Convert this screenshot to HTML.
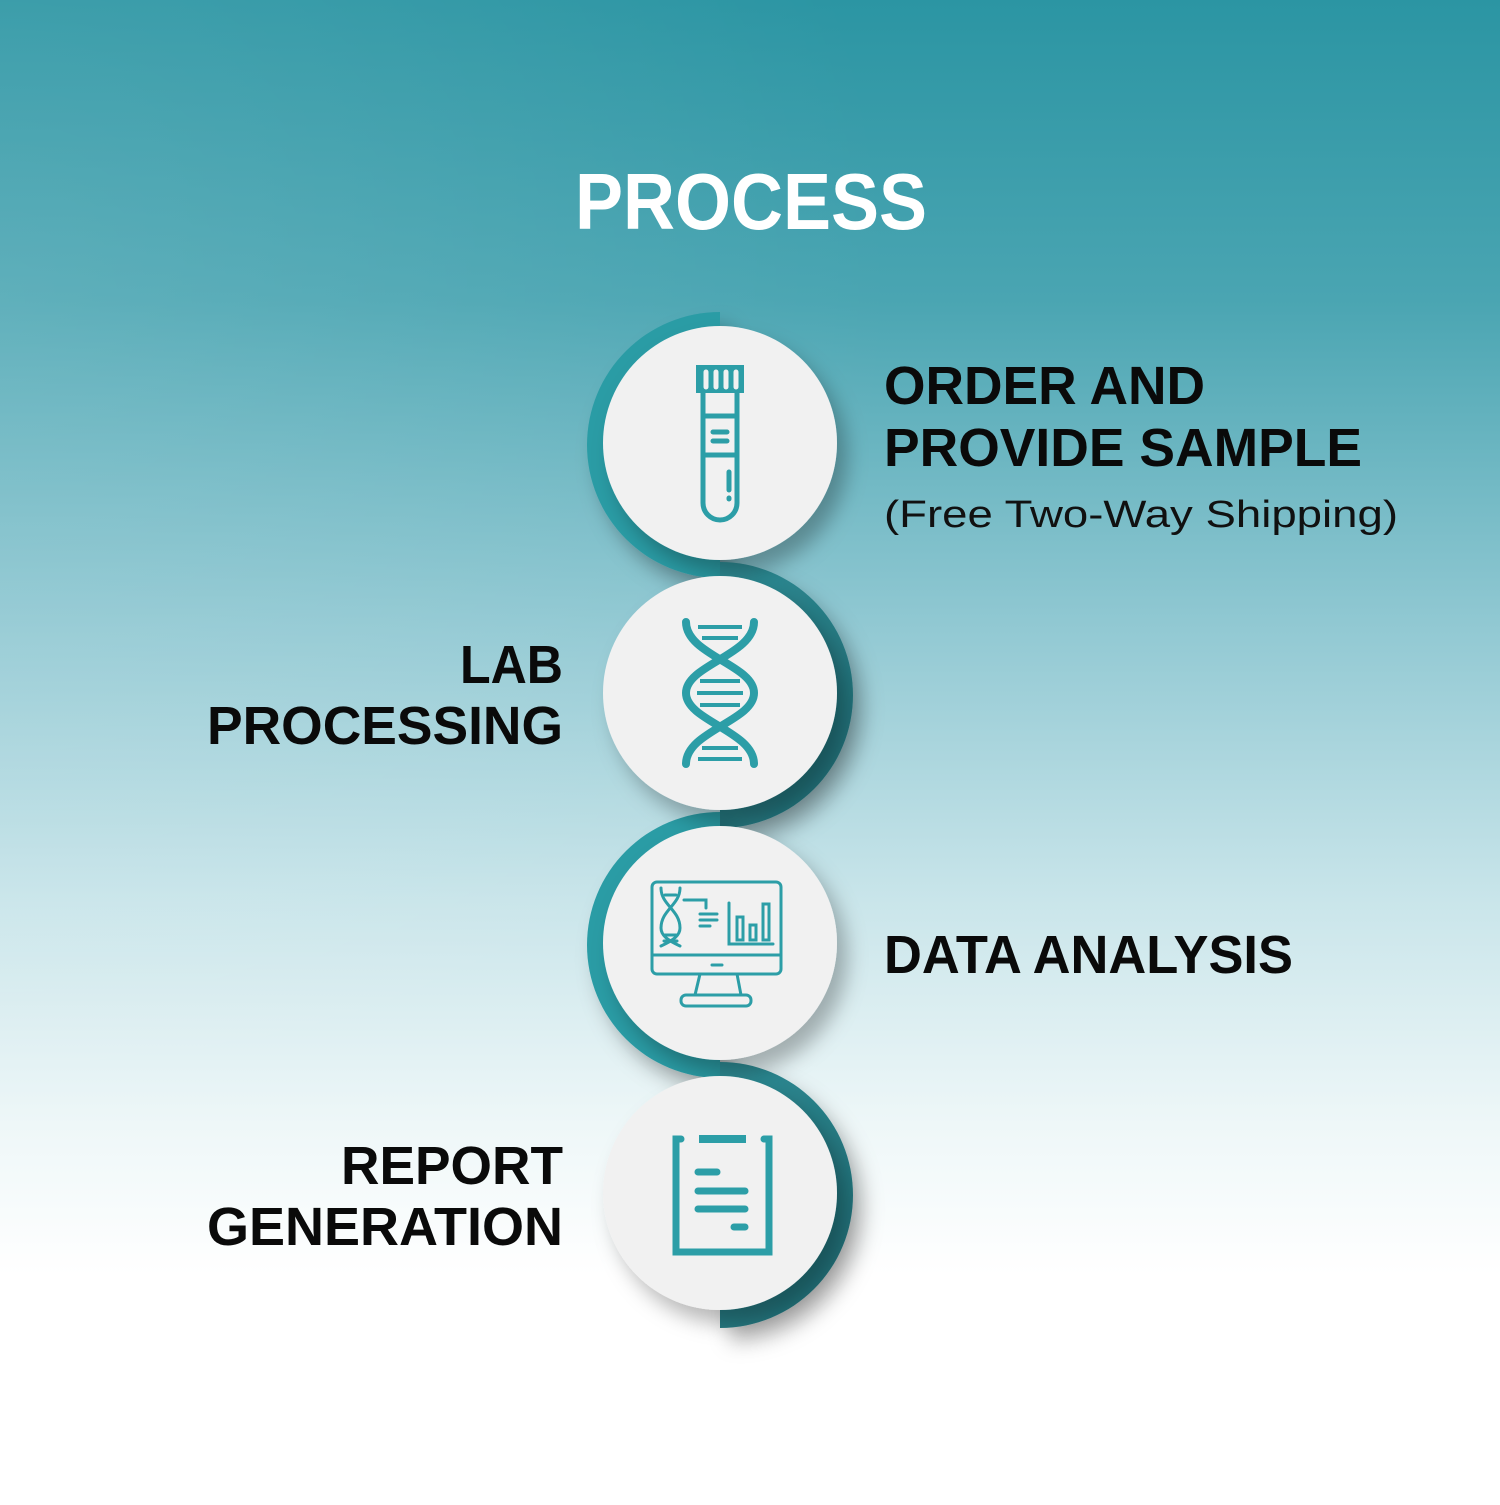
<!DOCTYPE html>
<html><head><meta charset="utf-8"><style>
html,body{margin:0;padding:0;}
body{width:1500px;height:1500px;overflow:hidden;}
</style></head><body>
<svg width="1500" height="1500" viewBox="0 0 1500 1500" xmlns="http://www.w3.org/2000/svg">
<defs>
<linearGradient id="bg" x1="0" y1="0" x2="0" y2="1">
<stop offset="0" stop-color="#2b95a3"/>
<stop offset="0.2" stop-color="#4aa5b2"/>
<stop offset="0.42" stop-color="#92c9d3"/>
<stop offset="0.6" stop-color="#c9e5ea"/>
<stop offset="0.75" stop-color="#eef7f8"/>
<stop offset="0.85" stop-color="#ffffff"/>
<stop offset="1" stop-color="#ffffff"/>
</linearGradient>
<radialGradient id="tl" cx="0" cy="0.2" r="0.6">
<stop offset="0" stop-color="#ffffff" stop-opacity="0.12"/>
<stop offset="1" stop-color="#ffffff" stop-opacity="0"/>
</radialGradient>
<linearGradient id="dk" x1="0" y1="0" x2="1" y2="1">
<stop offset="0" stop-color="#2f8f98"/>
<stop offset="1" stop-color="#1f6a72"/>
</linearGradient>
<filter id="sh" x="-30%" y="-30%" width="160%" height="160%">
<feDropShadow dx="10" dy="14" stdDeviation="10" flood-color="#000" flood-opacity="0.28"/>
</filter>
</defs>
<rect width="1500" height="1500" fill="url(#bg)"/>
<rect width="1500" height="1500" fill="url(#tl)"/>

<text x="575" y="229" font-family="Liberation Sans, sans-serif" font-weight="bold" font-size="80" fill="#fff" textLength="352" lengthAdjust="spacingAndGlyphs">PROCESS</text>

<!-- half discs -->
<path d="M720,312 A133,133 0 0 0 720,578 Z" fill="#2c9ca5" filter="url(#sh)"/>
<path d="M720,562 A133,133 0 0 1 720,828 Z" fill="url(#dk)" filter="url(#sh)"/>
<path d="M720,812 A133,133 0 0 0 720,1078 Z" fill="#2c9ca5" filter="url(#sh)"/>
<path d="M720,1062 A133,133 0 0 1 720,1328 Z" fill="url(#dk)" filter="url(#sh)"/>

<g filter="url(#sh)" fill="#f1f1f1">
<circle cx="720" cy="443" r="117"/>
<circle cx="720" cy="693" r="117"/>
<circle cx="720" cy="943" r="117"/>
<circle cx="720" cy="1193" r="117"/>
</g>

<!-- test tube -->
<g stroke="#2c9ea7" stroke-width="5" fill="none" stroke-linecap="round">
<rect x="696" y="365" width="48" height="28" fill="#2c9ea7" stroke="none"/>
<line x1="706" y1="372" x2="706" y2="387" stroke="#f1f1f1"/>
<line x1="716" y1="372" x2="716" y2="387" stroke="#f1f1f1"/>
<line x1="726" y1="372" x2="726" y2="387" stroke="#f1f1f1"/>
<line x1="736" y1="372" x2="736" y2="387" stroke="#f1f1f1"/>
<path d="M703,393 V503 A17,17 0 0 0 737,503 V393"/>
<line x1="703" y1="416" x2="737" y2="416"/>
<line x1="703" y1="455" x2="737" y2="455"/>
<line x1="713" y1="432" x2="727" y2="432"/>
<line x1="713" y1="441" x2="727" y2="441"/>
<line x1="729" y1="472" x2="729" y2="490"/>
<line x1="729" y1="498" x2="729" y2="499"/>
</g>

<!-- DNA -->
<g stroke="#2c9ea7" stroke-width="8" fill="none" stroke-linecap="round">
<path d="M686,622 C686,655 754,665 754,693 C754,721 686,731 686,764"/>
<path d="M754,622 C754,655 686,665 686,693 C686,721 754,731 754,764"/>
</g>
<g stroke="#2c9ea7" stroke-width="4">
<line x1="698" y1="627" x2="742" y2="627"/>
<line x1="702" y1="638" x2="738" y2="638"/>
<line x1="700" y1="681" x2="740" y2="681"/>
<line x1="697" y1="693" x2="743" y2="693"/>
<line x1="700" y1="705" x2="740" y2="705"/>
<line x1="702" y1="748" x2="738" y2="748"/>
<line x1="698" y1="759" x2="742" y2="759"/>
</g>

<!-- monitor -->
<g stroke="#2c9ea7" stroke-width="3" fill="none" stroke-linecap="round">
<rect x="652" y="882" width="129" height="92" rx="5"/>
<line x1="652" y1="955" x2="781" y2="955"/>
<line x1="712" y1="965" x2="722" y2="965"/>
<path d="M700,974 L695,995 M737,974 L741,995"/>
<rect x="681" y="995" width="70" height="11" rx="5"/>
<path d="M661,888 C661,905 680,910 680,928 C680,935 674,940 661,946"/>
<path d="M680,888 C680,905 661,910 661,928 C661,935 667,940 680,946"/>
<line x1="665" y1="895" x2="676" y2="895"/><line x1="665" y1="935" x2="676" y2="935"/>
<line x1="664" y1="941" x2="677" y2="941"/>
<path d="M684,900 H706 V908"/>
<line x1="700" y1="914" x2="717" y2="914"/>
<line x1="700" y1="920" x2="717" y2="920"/>
<line x1="700" y1="926" x2="710" y2="926"/>
<path d="M729,903 V944 H773"/>
<rect x="737" y="917" width="6" height="23"/>
<rect x="750" y="925" width="6" height="15"/>
<rect x="763" y="904" width="6" height="36"/>
</g>

<!-- clipboard -->
<g stroke="#2c9ea7" fill="none" stroke-linecap="round">
<path d="M681,1139 H676 V1252 H769 V1139 H764" stroke-width="7"/>
<line x1="699" y1="1139" x2="746" y2="1139" stroke-width="8" stroke-linecap="butt"/>
<line x1="698" y1="1172" x2="717" y2="1172" stroke-width="7"/>
<line x1="698" y1="1191" x2="745" y2="1191" stroke-width="7"/>
<line x1="698" y1="1209" x2="745" y2="1209" stroke-width="7"/>
<line x1="734" y1="1227" x2="745" y2="1227" stroke-width="7"/>
</g>

<g font-family="Liberation Sans, sans-serif" font-weight="bold" font-size="54" fill="#0a0a0a">
<text x="884" y="404" textLength="321" lengthAdjust="spacingAndGlyphs">ORDER AND</text>
<text x="884" y="466" textLength="478" lengthAdjust="spacingAndGlyphs">PROVIDE SAMPLE</text>
<text x="460" y="683" textLength="103" lengthAdjust="spacingAndGlyphs">LAB</text>
<text x="207" y="744" textLength="356" lengthAdjust="spacingAndGlyphs">PROCESSING</text>
<text x="884" y="973" textLength="409" lengthAdjust="spacingAndGlyphs">DATA ANALYSIS</text>
<text x="341" y="1184" textLength="222" lengthAdjust="spacingAndGlyphs">REPORT</text>
<text x="207" y="1245" textLength="356" lengthAdjust="spacingAndGlyphs">GENERATION</text>
</g>
<text x="884" y="527" font-family="Liberation Sans, sans-serif" font-size="38" fill="#111" textLength="514" lengthAdjust="spacingAndGlyphs">(Free Two-Way Shipping)</text>
</svg>
</body></html>
